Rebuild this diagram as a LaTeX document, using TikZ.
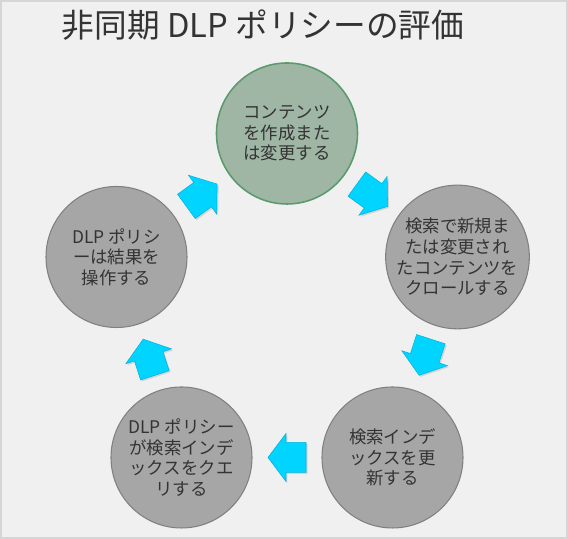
\documentclass[tikz,border=0pt]{standalone}
\usepackage{fontspec}
\setmainfont{Noto Sans CJK JP}
\usetikzlibrary{calc,shadows}
\definecolor{bggray}{HTML}{F0F0F0}
\definecolor{edgegray}{HTML}{D6D6D6}
\definecolor{discgray}{HTML}{A6A6A6}
\definecolor{ringgray}{HTML}{808080}
\definecolor{discgreen}{HTML}{A0B6A4}
\definecolor{ringgreen}{HTML}{5A9B6E}
\definecolor{inkgray}{HTML}{333333}
\definecolor{flowcyan}{HTML}{00D4FF}
\definecolor{flowedge}{HTML}{00B4E0}
\begin{document}
\begin{tikzpicture}[
	phase/.style={circle,minimum size=2.82cm,inner sep=0pt,draw=ringgray,line width=0.6pt,fill=discgray,text=inkgray,align=center,font=\fontsize{9.9}{11.7}\selectfont},
	phasestart/.style={phase,draw=ringgreen,line width=0.9pt,fill=discgreen},
	flowarrow/.pic={\draw[fill=flowcyan,draw=flowedge,line width=0.3pt,drop shadow={opacity=0.25,shadow xshift=0.03cm,shadow yshift=-0.03cm}]
		(-0.38,-0.3)--(0.02,-0.3)--(0.02,-0.48)--(0.38,0)--(0.02,0.48)--(0.02,0.3)--(-0.38,0.3)--cycle;}
	]
	\useasboundingbox (0,0) rectangle (11.36,10.78);
	\draw[fill=bggray,draw=edgegray,line width=0.04cm](0.02,0.02) rectangle (11.34,10.76);
	\node (title) at (5.26,10.03)[anchor=base,text=inkgray,font=\fontsize{18.6}{20}\selectfont]{非同期 DLP ポリシーの評価};
	
	\node (create) at (5.74,8.11)[phasestart]{コンテンツ\\を作成また\\は変更する};
	\node (crawl) at (9.15,5.64)[phase]{検索で新規ま\\たは変更され\\たコンテンツを\\クロールする};
	\node (index) at (7.85,1.63)[phase]{検索インデ\\ックスを更\\新する};
	\node (query) at (3.63,1.63)[phase]{DLP ポリシー\\が検索インデ\\ックスをクエ\\リする};
	\node (act) at (2.33,5.64)[phase]{DLP ポリシ\\ーは結果を\\操作する};
	
	\path ($(act)!0.5!(create)$) pic[rotate=36]{flowarrow};
	\path ($(create)!0.5!(crawl)$) pic[rotate=-36]{flowarrow};
	\path ($(crawl)!0.5!(index)$) pic[rotate=-108]{flowarrow};
	\path ($(index)!0.5!(query)$) pic[rotate=180]{flowarrow};
	\path ($(query)!0.5!(act)$) pic[rotate=108]{flowarrow};
\end{tikzpicture}
\end{document}
